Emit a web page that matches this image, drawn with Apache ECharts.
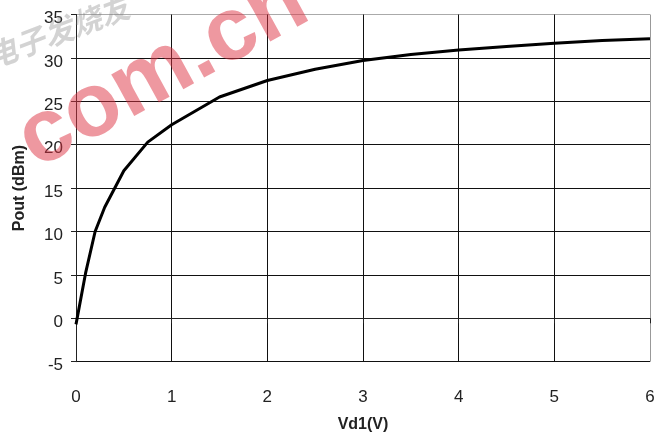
<!DOCTYPE html>
<html><head><meta charset="utf-8">
<script src="https://cdn.jsdelivr.net/npm/echarts@6/dist/echarts.min.js"></script>
<style>html,body{margin:0;padding:0;background:#fff}#c{width:672px;height:435px}</style>
</head><body><div id="c"></div>
<script>
const vd1 = [0, 0.1, 0.2, 0.3, 0.5, 0.75, 1, 1.5, 2, 2.5, 3, 3.5, 4, 4.5, 5, 5.5, 6];
const pout = [-0.7, 5.2, 10, 12.8, 17, 20.3, 22.3, 25.5, 27.4, 28.7, 29.7, 30.4, 30.9, 31.3, 31.7, 32.0, 32.2];
const xName = 'Vd1(V)';
const yName = 'Pout (dBm)';
const watermarkRed = 'com.cn';
const watermarkGray = '电子发烧友';

const chart = echarts.init(document.getElementById('c'), null, {renderer: 'canvas'});
const font = '"Liberation Sans", Arial, sans-serif';
chart.setOption({
  backgroundColor: '#fff',
  animation: false,
  grid: {left: 76, right: 22, top: 14.5, bottom: 73.3, outerBoundsMode: 'none', containLabel: false},
  xAxis: {
    type: 'value', min: 0, max: 6, interval: 1,
    name: xName, nameLocation: 'middle', nameGap: 55,
    nameTextStyle: {fontFamily: font, fontSize: 16, fontWeight: 'bold', color: '#222'},
    axisLine: {show: true, lineStyle: {color: '#222', width: 1}},
    axisTick: {show: true, length: 5, lineStyle: {color: '#222'}},
    axisLabel: {margin: 27, fontFamily: font, fontSize: 17, color: '#222'},
    splitLine: {show: true, lineStyle: {color: ['#111','#111','#111','#111','#111','#111','#999'], width: 1}}
  },
  yAxis: {
    type: 'value', min: -5, max: 35, interval: 5,
    name: yName, nameLocation: 'middle', nameGap: 48, nameRotate: 90,
    nameTextStyle: {fontFamily: font, fontSize: 16, fontWeight: 'bold', color: '#222'},
    axisLine: {show: true, lineStyle: {color: '#222', width: 1}},
    axisTick: {show: true, length: 5, lineStyle: {color: '#222'}},
    axisLabel: {margin: 13, formatter: '{a|{value}}',
      rich: {a: {fontFamily: font, fontSize: 17, color: '#222', padding: [8, 0, 0, 0]}}},
    splitLine: {show: true, lineStyle: {color: ['#111','#111','#111','#111','#111','#111','#111','#111','#aaa'], width: 1}}
  },
  series: [{
    type: 'line',
    data: vd1.map((v, i) => [v, pout[i]]),
    showSymbol: false, smooth: false,
    lineStyle: {color: '#000', width: 3},
    z: 3
  }],
  graphic: [
    {type: 'text', x: -12, y: 58, rotation: 0.36, z: 100,
     style: {text: watermarkGray, font: 'italic bold 30px "Noto Sans CJK SC"', fill: 'rgba(130,130,130,0.35)', verticalAlign: 'middle', align: 'left'}},
    {type: 'text', x: 3, y: 108, rotation: 0.5, z: 100,
     style: {text: watermarkRed, font: 'bold 90px "Liberation Sans", Arial', fill: 'rgba(222,50,65,0.5)', verticalAlign: 'top', align: 'left'}}
  ]
});
</script></body></html>
